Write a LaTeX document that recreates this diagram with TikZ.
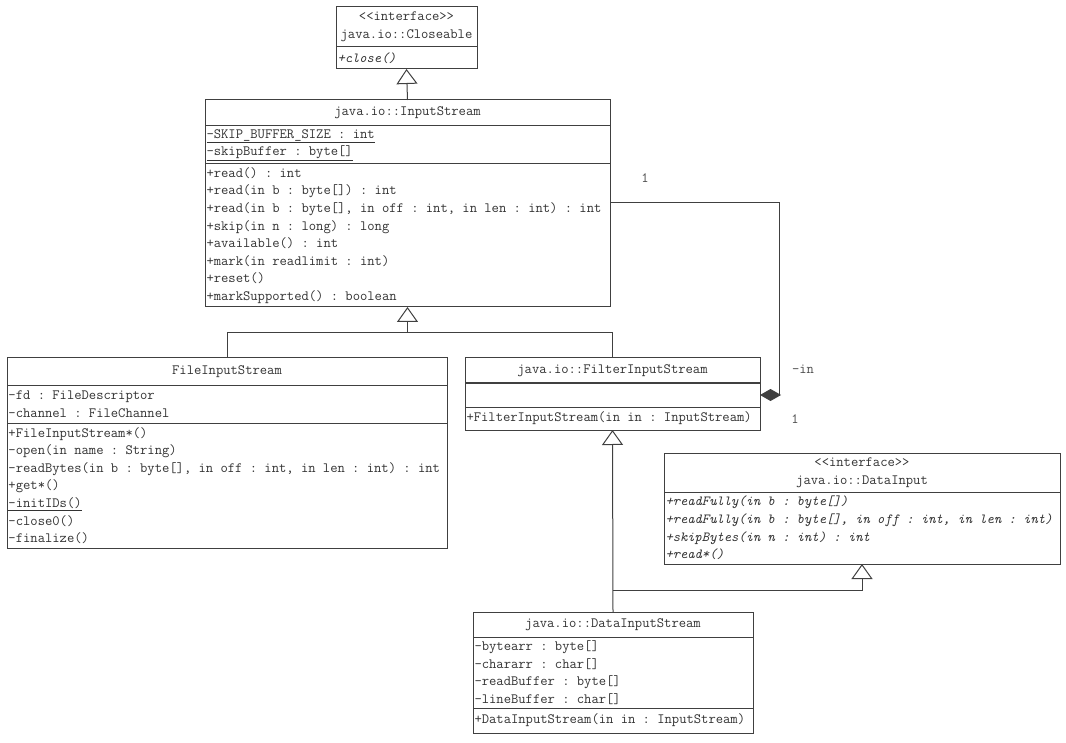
\documentclass[tikz,border=0pt]{standalone}
\usepackage{tikz}
\usetikzlibrary{arrows.meta, positioning, calc}

\newcommand{\umlfont}{\ttfamily\fontsize{14.2}{17.6}\selectfont}
\newcommand{\umlit}{\fontsize{13.9}{17.6}\selectfont\itshape}
\newcommand{\umlspace}{\spaceskip=\fontcharwd\font`a\relax\xspaceskip=\spaceskip}

\tikzset{
    cls/.style={draw=black!75, line width=1pt, fill=white, inner xsep=1.5pt, inner ysep=0pt, outer sep=0pt, font=\umlfont, text=black!80, execute at begin node=\umlspace},
    head/.style={cls, align=center},
    body/.style={cls, align=left},
    link/.style={draw=black!75, line width=1pt},
    gen/.style={link, -{Triangle[open, length=15pt, width=21pt]}},
    comp/.style={link, -{Diamond[length=21pt, width=12pt]}},
    mult/.style={font=\umlfont, text=black!70}
}

\begin{document}
\begin{tikzpicture}[x=1pt, y=-1pt]
    \useasboundingbox (0,0) rectangle (1066,743);

    % Closeable
    \node[head, anchor=north west, text width=138pt, minimum height=40pt] (clH) at (336,7)
        {<<interface>>\\java.io::Closeable};
    \node[body, below=0pt of clH, text width=138pt, minimum height=22pt] (clO)
        {\umlit +close()};

    % InputStream
    \node[head, anchor=north west, text width=402pt, minimum height=26pt] (isH) at (205,100)
        {java.io::InputStream};
    \node[body, below=0pt of isH, text width=402pt, minimum height=38pt] (isA)
        {\underline{-SKIP\_BUFFER\_SIZE : int}\\\underline{-skipBuffer : byte[]}};
    \node[body, below=0pt of isA, text width=402pt, minimum height=143pt] (isO)
        {+read() : int\\
         +read(in b : byte[]) : int\\
         +read(in b : byte[], in off : int, in len : int) : int\\
         +skip(in n : long) : long\\
         +available() : int\\
         +mark(in readlimit : int)\\
         +reset()\\
         +markSupported() : boolean};

    % FileInputStream
    \node[head, anchor=north west, text width=437pt, minimum height=27pt] (fisH) at (7,358)
        {FileInputStream};
    \node[body, below=0pt of fisH, text width=437pt, minimum height=38pt] (fisA)
        {-fd : FileDescriptor\\-channel : FileChannel};
    \node[body, below=0pt of fisA, text width=437pt, minimum height=125pt] (fisO)
        {+FileInputStream*()\\
         -open(in name : String)\\
         -readBytes(in b : byte[], in off : int, in len : int) : int\\
         +get*()\\
         \underline{-initIDs()}\\
         -close0()\\
         -finalize()};

    % FilterInputStream
    \node[head, anchor=north west, text width=292pt, minimum height=25pt] (filH) at (465,358)
        {java.io::FilterInputStream};
    \node[body, below=0pt of filH, text width=292pt, minimum height=24pt] (filA) {};
    \node[body, below=0pt of filA, text width=292pt, minimum height=23pt] (filO)
        {+FilterInputStream(in in : InputStream)};

    % DataInput
    \node[head, anchor=north west, text width=393pt, minimum height=39pt] (diH) at (664,453)
        {<<interface>>\\java.io::DataInput};
    \node[body, below=0pt of diH, text width=393pt, minimum height=72pt] (diO)
        {\umlit +readFully(in b : byte[])\\
         +readFully(in b : byte[], in off : int, in len : int)\\
         +skipBytes(in n : int) : int\\
         +read*()};

    % DataInputStream
    \node[head, anchor=north west, text width=277pt, minimum height=25pt] (disH) at (473,612)
        {java.io::DataInputStream};
    \node[body, below=0pt of disH, text width=277pt, minimum height=71pt] (disA)
        {-bytearr : byte[]\\-chararr : char[]\\-readBuffer : byte[]\\-lineBuffer : char[]};
    \node[body, below=0pt of disA, text width=277pt, minimum height=25pt] (disO)
        {+DataInputStream(in in : InputStream)};

    % generalizations
    \draw[gen] (isH.north) -- (clO.south);
    \coordinate (jIS) at ($(isO.south)+(0,26)$);
    \draw[gen] (fisH.north) |- (jIS) -- (isO.south);
    \draw[link] (filH.north) |- (jIS);
    \draw[gen] (disH.north) -- (filO.south);
    \coordinate (jDI) at ($(disH.north)+(0,-22)$);
    \draw[gen] (jDI) -| (diO.south);

    % composition
    \coordinate (cIS) at ($(isO.north east)+(0,39)$);
    \draw[comp] (cIS) -| ($(filA.east)+(19,0)$) -- (filA.east);
    \node[mult] (m1) at (645,178) {1};
    \node[mult] (mIn) at (803,369) {-in};
    \node[mult] (m2) at (795,419) {1};
\end{tikzpicture}
\end{document}
